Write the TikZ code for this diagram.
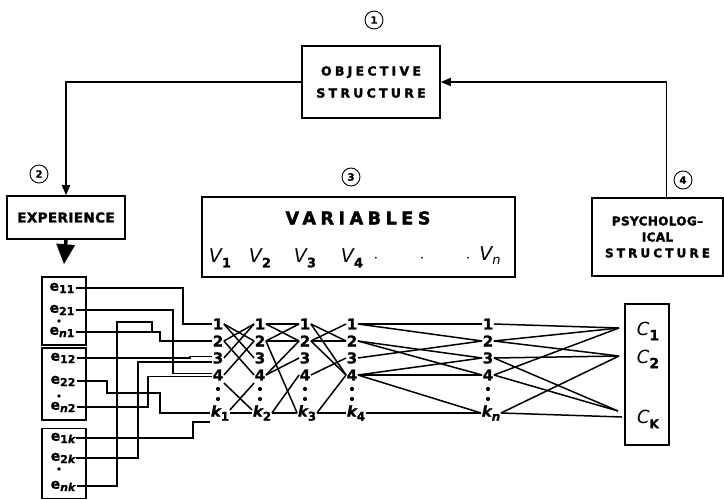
\documentclass[tikz,border=0pt]{standalone}
\usepackage{fontspec}
\setmainfont{DejaVu Sans}[BoldFeatures={FakeBold=1.2},BoldItalicFeatures={FakeBold=1.2}]
\newfontfamily\hdwide{DejaVu Sans}[LetterSpace=26,BoldFeatures={FakeBold=2.2}]
\newfontfamily\hdmid{DejaVu Sans}[LetterSpace=3,BoldFeatures={FakeBold=2.2}]
\usetikzlibrary{arrows.meta,calc}
\newcommand\klab[1]{{\itshape k}\raisebox{-4pt}{\fontsize{12}{12}\selectfont #1}}
\newcommand\elab[1]{e\raisebox{-2.5pt}{\fontsize{11}{11}\selectfont #1}}
\newcommand\vlab[1]{{\itshape V}\raisebox{-5pt}{\fontsize{13}{13}\selectfont\bfseries #1}}
\begin{document}
\begin{tikzpicture}[x=1pt,y=-1pt,
  box/.style={draw, line width=1.5pt, inner sep=0pt},
  wire/.style={line width=1.6pt},
  link/.style={line width=1.5pt},
  numc/.style={circle, draw, line width=0.9pt, minimum size=18pt, inner sep=0pt, font=\fontsize{10}{10}\selectfont\bfseries},
  lab/.style={font=\bfseries\fontsize{15}{15}\selectfont, inner sep=0.5pt},
  elabs/.style={font=\bfseries\fontsize{14}{14}\selectfont, inner sep=1pt},
  arr/.style={line width=1.5pt, -{Triangle[length=10pt,width=8pt]}}
]
\useasboundingbox (0,0) rectangle (724,500);

% top
\node[numc] (n1) at (374,20) {1};
\node[box, minimum width=138pt, minimum height=72pt, align=center,
      font=\hdwide\bfseries\fontsize{12.5}{22}\selectfont] (obj) at (371,82) {OBJECTIVE\\STRUCTURE};
\node[numc] (n2) at (39,174) {2};
\node[box, minimum width=118pt, minimum height=43pt,
      font=\hdmid\bfseries\fontsize{13.5}{13.5}\selectfont] (exp) at (66,217.5) {EXPERIENCE};
\node[numc] (n3) at (351,177) {3};
\node[box, minimum width=313pt, minimum height=80pt] (var) at (358.5,237) {};
\node[font=\hdwide\bfseries\fontsize{17.5}{17.5}\selectfont] (vt) at (358,218) {VARIABLES};
\node[numc] (n4) at (683,180) {4};
\node[box, minimum width=131pt, minimum height=78pt, align=center,
      font=\hdmid\bfseries\fontsize{12}{16}\selectfont] (psy) at (657.5,237) {PSYCHOLOG–\\ICAL\\{\hdwide STRUCTURE}};

\draw[arr] (obj.west) -| (exp.north);
\draw[arr] ([xshift=9pt]psy.north) |- (obj.east);

% variables row
\begin{scope}[every node/.style={font=\fontsize{19}{19}\selectfont, inner sep=0pt}]
\node (v1) at (220,258) {\vlab{1}};
\node (v2) at (260,258) {\vlab{2}};
\node (v3) at (305,258) {\vlab{3}};
\node (v4) at (352,258) {\vlab{4}};
\node (vd1) at (376,259) {$\cdot$};
\node (vd2) at (422,259) {$\cdot$};
\node (vd3) at (468,259) {$\cdot$};
\node (vn) at (490,256) {{\itshape V}\raisebox{-4pt}{\fontsize{13}{13}\selectfont\itshape n}};
\end{scope}

% e boxes
\node[box, minimum width=44pt, minimum height=68pt] (eb1) at (64,311) {};
\node[box, minimum width=44pt, minimum height=72pt] (eb2) at (64,384) {};
\node[box, minimum width=44pt, minimum height=70pt] (eb3) at (64,463.5) {};
\draw[line width=3.5pt, -{Triangle[length=20pt,width=18pt]}] (exp.south) -- ([yshift=12pt]eb1.north);

\begin{scope}[every node/.style={elabs}]
\node (e11) at (62,288) {\elab{11}};
\node (e21) at (62,310) {\elab{21}};
\node (en1) at (62,332) {\elab{{\itshape n}1}};
\node (e12) at (63,358) {\elab{12}};
\node (e22) at (63,381) {\elab{22}};
\node (en2) at (63,407) {\elab{{\itshape n}2}};
\node (e1k) at (63,438) {\elab{1{\itshape k}}};
\node (e2k) at (63,458) {\elab{2{\itshape k}}};
\node (enk) at (63,486) {\elab{{\itshape nk}}};
\end{scope}
\foreach \y in {321,396,469} \fill (59,\y) circle (1.8);

% columns
\foreach \c/\x in {1/218,2/260,3/305,4/352,n/488} {
  \foreach \r/\y in {1/324,2/341,3/358,4/375}
    \node[lab] (c\c r\r) at (\x,\y) {\r};
  \fill (\x,389) circle (2.1);
  \fill (\x,399) circle (2.1);
}
\node[lab] (c1rk) at (220,413) {\klab{\bfseries 1}};
\node[lab] (c2rk) at (262,413) {\klab{\bfseries 2}};
\node[lab] (c3rk) at (307,413) {\klab{\bfseries 3}};
\node[lab] (c4rk) at (356,413) {\klab{\bfseries 4}};
\node[lab] (cnrk) at (491,413) {\klab{\itshape n}};

% C box
\node[box, minimum width=44pt, minimum height=141pt] (cb) at (647,374.5) {};
\begin{scope}[every node/.style={font=\fontsize{18}{18}\selectfont, inner sep=0pt}]
\node (C1) at (648,331) {{\itshape C}\raisebox{-5pt}{\fontsize{14}{14}\selectfont\bfseries 1}};
\node (C2) at (648,359) {{\itshape C}\raisebox{-5pt}{\fontsize{14}{14}\selectfont\bfseries 2}};
\node (Ck) at (648,419) {{\itshape C}\raisebox{-5pt}{\fontsize{12}{12}\selectfont\bfseries K}};
\end{scope}
\coordinate (ci1) at (619,328);
\coordinate (ci2) at (619,356);
\coordinate (cik) at (618,411);
\coordinate (cikb) at (622,417);
\coordinate (jx) at (152,0);

% wires from e labels
\draw[wire] (e11.east) -| (183,300) |- (c1r1.west);
\draw[wire] (e21.east) -| (173,340) |- ([yshift=1.5pt]c1r4.west);
\draw[wire] (en1.east) -| (160,336) |- (c1r2.west);
\draw[wire] (enk.east) -| (117,400) |- (152,322) |- (en1.east -| jx);
\draw[wire] (e12.east) -| (190,357) |- ([yshift=1.5pt]c1r3.west);
\draw[wire] (e22.east) -| (107,393) -| (160,400) |- (c1rk.west);
\draw[wire] (en2.east) -| (148,390) |- ([yshift=-1.5pt]c1r4.west);
\draw[wire] (e1k.east) -| (193,430) |- ([yshift=-9pt]c1rk.west);
\draw[wire] (e2k.east) -| (138,400) |- ([yshift=-4pt]c1r3.west);

% links col1 -> col2
\foreach \a/\b in {1/3,2/1,2/4,3/1,4/2,1/2}
  \draw[link] (c1r\a.east) -- (c2r\b.west);
\draw[link] ([yshift=-8pt]c1r4.east) -- ([yshift=3pt]c2rk.west);
\draw[link] ([yshift=3pt]c1rk.east) -- ([yshift=-8pt]c2r4.west);
\draw[link] (c1rk.east) -- (c2rk.west);
% col2 -> col3
\foreach \a/\b in {1/1,1/2,2/1,2/2,2/k,4/2,4/3,k/4,k/k}
  \draw[link] (c2r\a.east) -- (c3r\b.west);
% col3 -> col4
\foreach \a/\b in {1/2,1/4,2/1,2/2,2/4,4/3,k/4,k/k}
  \draw[link] (c3r\a.east) -- (c4r\b.west);
% col4 -> coln
\foreach \a/\b in {1/1,1/2,2/3,2/4,3/2,4/3,4/4,4/k,k/k}
  \draw[link] (c4r\a.east) -- (cnr\b.west);
% coln -> C
\foreach \a/\b in {1/ci1,2/ci1,2/ci2,3/ci2,3/cik,4/ci1,4/cik,k/ci2,k/cikb}
  \draw[link] (cnr\a.east) -- (\b);
\end{tikzpicture}
\end{document}
